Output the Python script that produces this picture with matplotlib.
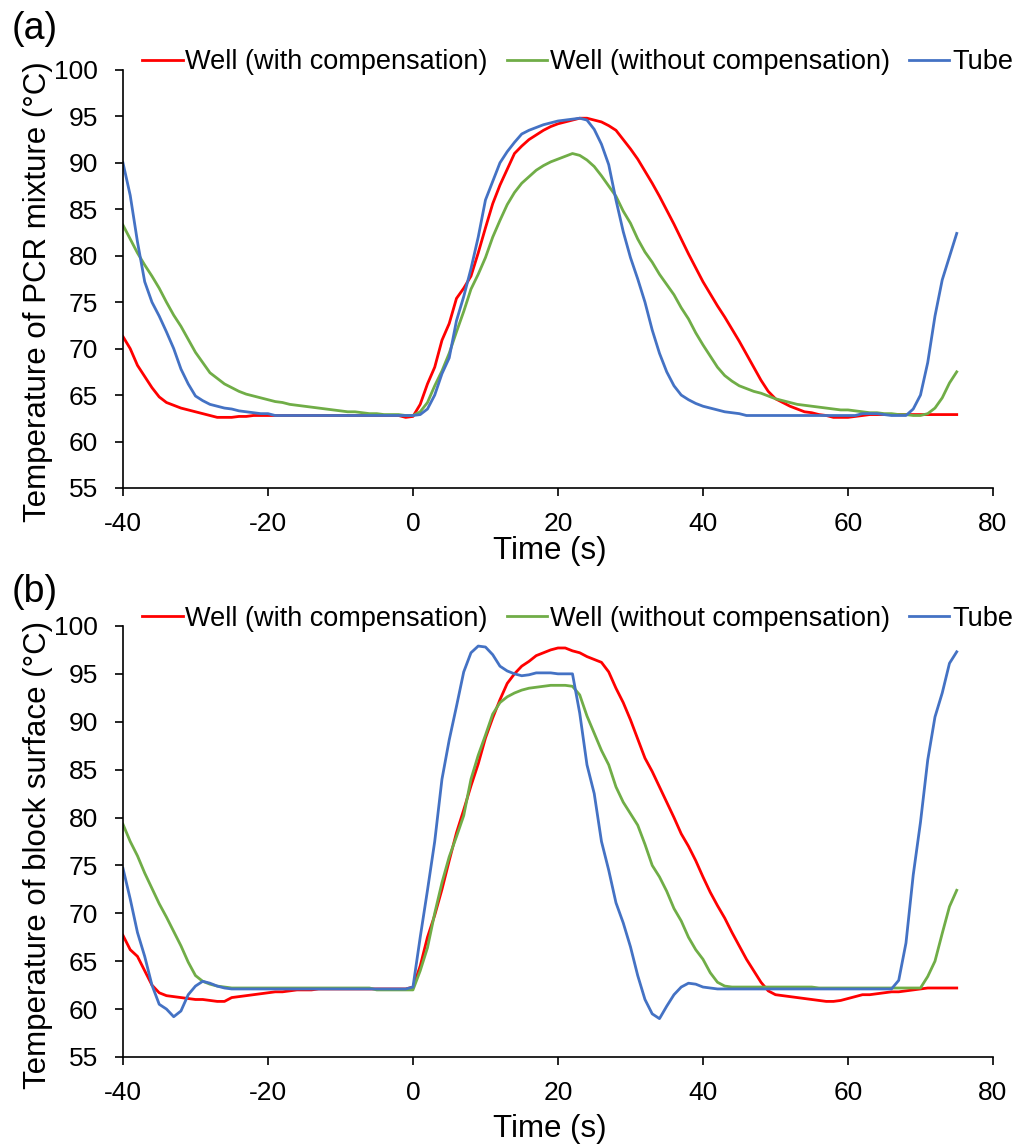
import matplotlib
matplotlib.use("Agg")
import matplotlib.pyplot as plt
import numpy as np

plt.rcParams['font.family'] = ['Liberation Sans', 'DejaVu Sans']
plt.rcParams['axes.unicode_minus'] = False

# time axis, 1 s sampling
time_s = np.arange(-40, 76)

# (a) temperature of PCR mixture
a_well_comp = [71.3, 70.0, 68.2, 67.0, 65.8, 64.8, 64.2, 63.9, 63.6, 63.4,
               63.2, 63.0, 62.8, 62.6, 62.6, 62.6, 62.7, 62.7, 62.8, 62.8,
               62.8, 62.8, 62.8, 62.8, 62.8, 62.8, 62.8, 62.8, 62.8, 62.8,
               62.8, 62.8, 62.8, 62.8, 62.8, 62.8, 62.8, 62.8, 62.8, 62.6,
               62.7, 64.0, 66.2, 68.0, 70.9, 72.7, 75.4, 76.5, 77.8, 80.3,
               83.0, 85.6, 87.6, 89.3, 91.0, 91.8, 92.5, 93.0, 93.5, 93.9,
               94.2, 94.4, 94.6, 94.8, 94.8, 94.6, 94.4, 94.0, 93.5, 92.5,
               91.5, 90.4, 89.1, 87.8, 86.4, 84.9, 83.4, 81.8, 80.2, 78.7,
               77.2, 75.9, 74.6, 73.4, 72.1, 70.8, 69.4, 68.0, 66.6, 65.4,
               64.6, 64.2, 63.8, 63.5, 63.2, 63.1, 62.9, 62.8, 62.6, 62.6,
               62.6, 62.7, 62.8, 62.9, 62.9, 62.9, 62.9, 62.9, 62.9, 62.9,
               62.9, 62.9, 62.9, 62.9, 62.9, 62.9]
a_well_nocomp = [83.3, 81.8, 80.3, 79.0, 77.8, 76.5, 75.0, 73.6, 72.4, 71.0,
                 69.6, 68.5, 67.4, 66.8, 66.2, 65.8, 65.4, 65.1, 64.9, 64.7,
                 64.5, 64.3, 64.2, 64.0, 63.9, 63.8, 63.7, 63.6, 63.5, 63.4,
                 63.3, 63.2, 63.2, 63.1, 63.0, 63.0, 62.9, 62.9, 62.9, 62.8,
                 62.8, 63.2, 64.2, 66.0, 67.6, 69.5, 71.8, 74.0, 76.4, 78.0,
                 79.8, 82.0, 83.8, 85.5, 86.8, 87.8, 88.5, 89.2, 89.7, 90.1,
                 90.4, 90.7, 91.0, 90.8, 90.3, 89.6, 88.6, 87.5, 86.4, 84.8,
                 83.5, 81.8, 80.4, 79.3, 78.0, 76.9, 75.8, 74.4, 73.2, 71.7,
                 70.4, 69.2, 68.0, 67.1, 66.5, 66.0, 65.7, 65.4, 65.2, 64.9,
                 64.6, 64.4, 64.2, 64.0, 63.9, 63.8, 63.7, 63.6, 63.5, 63.4,
                 63.4, 63.3, 63.2, 63.1, 63.1, 63.0, 63.0, 62.9, 62.9, 62.8,
                 62.8, 63.0, 63.6, 64.7, 66.3, 67.5]
a_tube = [90.0, 86.5, 81.5, 77.2, 75.0, 73.5, 71.8, 70.0, 67.8, 66.2,
          64.9, 64.4, 64.0, 63.8, 63.6, 63.5, 63.3, 63.2, 63.1, 63.0,
          63.0, 62.8, 62.8, 62.8, 62.8, 62.8, 62.8, 62.8, 62.8, 62.8,
          62.8, 62.8, 62.8, 62.8, 62.8, 62.8, 62.8, 62.8, 62.8, 62.8,
          62.8, 62.9, 63.5, 65.0, 67.3, 69.0, 73.0, 75.6, 78.6, 82.0,
          86.0, 88.0, 90.0, 91.2, 92.2, 93.1, 93.5, 93.8, 94.1, 94.3,
          94.5, 94.6, 94.7, 94.8, 94.6, 93.6, 92.0, 89.8, 86.0, 82.6,
          79.8, 77.5, 75.0, 72.0, 69.5, 67.5, 66.0, 65.0, 64.5, 64.1,
          63.8, 63.6, 63.4, 63.2, 63.1, 63.0, 62.8, 62.8, 62.8, 62.8,
          62.8, 62.8, 62.8, 62.8, 62.8, 62.8, 62.8, 62.8, 62.8, 62.8,
          62.8, 62.8, 63.0, 63.0, 63.0, 62.9, 62.8, 62.8, 62.8, 63.5,
          65.0, 68.5, 73.5, 77.4, 79.9, 82.4]

# (b) temperature of block surface
b_well_comp = [67.7, 66.2, 65.5, 64.0, 62.5, 61.7, 61.4, 61.3, 61.2, 61.1,
               61.0, 61.0, 60.9, 60.8, 60.8, 61.2, 61.3, 61.4, 61.5, 61.6,
               61.7, 61.8, 61.8, 61.9, 62.0, 62.0, 62.0, 62.1, 62.1, 62.1,
               62.1, 62.1, 62.1, 62.1, 62.1, 62.1, 62.1, 62.1, 62.1, 62.1,
               62.3, 64.5, 67.5, 69.8, 72.5, 75.5, 78.4, 80.8, 83.3, 85.6,
               88.3, 90.4, 92.3, 94.0, 95.0, 95.8, 96.3, 96.9, 97.2, 97.5,
               97.7, 97.7, 97.4, 97.2, 96.8, 96.5, 96.2, 95.2, 93.5, 92.0,
               90.2, 88.2, 86.2, 84.8, 83.2, 81.6, 80.0, 78.3, 77.0, 75.5,
               73.8, 72.2, 70.8, 69.5, 68.0, 66.6, 65.2, 64.0, 62.8, 61.9,
               61.5, 61.4, 61.3, 61.2, 61.1, 61.0, 60.9, 60.8, 60.8, 60.9,
               61.1, 61.3, 61.5, 61.5, 61.6, 61.7, 61.8, 61.8, 61.9, 62.0,
               62.1, 62.2, 62.2, 62.2, 62.2, 62.2]
b_well_nocomp = [79.3, 77.5, 76.0, 74.2, 72.6, 71.0, 69.6, 68.1, 66.6, 64.9,
                 63.5, 62.9, 62.6, 62.4, 62.3, 62.2, 62.2, 62.2, 62.2, 62.2,
                 62.2, 62.2, 62.2, 62.2, 62.2, 62.2, 62.2, 62.2, 62.2, 62.2,
                 62.2, 62.2, 62.2, 62.2, 62.2, 62.0, 62.0, 62.0, 62.0, 62.0,
                 62.0, 64.0, 66.4, 70.0, 73.2, 75.9, 78.0, 80.2, 84.0, 86.5,
                 88.6, 90.8, 92.0, 92.6, 93.0, 93.3, 93.5, 93.6, 93.7, 93.8,
                 93.8, 93.8, 93.7, 92.8, 90.6, 88.8, 87.0, 85.5, 83.2, 81.6,
                 80.4, 79.2, 77.2, 75.0, 73.8, 72.3, 70.5, 69.2, 67.5, 66.2,
                 65.2, 63.8, 62.8, 62.4, 62.3, 62.3, 62.3, 62.3, 62.3, 62.3,
                 62.3, 62.3, 62.3, 62.3, 62.3, 62.3, 62.2, 62.2, 62.2, 62.2,
                 62.2, 62.2, 62.2, 62.2, 62.2, 62.2, 62.2, 62.2, 62.2, 62.2,
                 62.2, 63.4, 65.0, 67.9, 70.7, 72.4]
b_tube = [74.7, 71.5, 68.0, 65.5, 62.5, 60.5, 60.0, 59.2, 59.8, 61.5,
          62.4, 62.9, 62.7, 62.4, 62.2, 62.1, 62.1, 62.1, 62.1, 62.1,
          62.1, 62.1, 62.1, 62.1, 62.1, 62.1, 62.1, 62.1, 62.1, 62.1,
          62.1, 62.1, 62.1, 62.1, 62.1, 62.1, 62.1, 62.1, 62.1, 62.1,
          62.3, 67.5, 72.4, 77.5, 84.0, 88.1, 91.6, 95.2, 97.2, 97.9,
          97.8, 97.0, 95.8, 95.3, 95.0, 94.8, 94.9, 95.1, 95.1, 95.1,
          95.0, 95.0, 95.0, 90.9, 85.5, 82.5, 77.5, 74.5, 71.1, 69.0,
          66.5, 63.5, 61.0, 59.5, 59.0, 60.3, 61.5, 62.3, 62.7, 62.6,
          62.3, 62.2, 62.1, 62.1, 62.1, 62.1, 62.1, 62.1, 62.1, 62.1,
          62.1, 62.1, 62.1, 62.1, 62.1, 62.1, 62.1, 62.1, 62.1, 62.1,
          62.1, 62.1, 62.1, 62.1, 62.1, 62.1, 62.1, 63.0, 66.9, 74.0,
          79.5, 86.0, 90.5, 93.0, 96.1, 97.3]

series_names = ['Well (with compensation)', 'Well (without compensation)', 'Tube']
series_colors = ['#FF0000', '#70AD47', '#4472C4']

fig = plt.figure(figsize=(10.35, 11.46), dpi=100)

panels = [
    ('(a)', 'Temperature of PCR mixture (°C)', [a_well_comp, a_well_nocomp, a_tube],
     [0.1188, 0.5742, 0.8406, 0.3648], 0.9459, 0.975, -0.151),
    ('(b)', 'Temperature of block surface (°C)', [b_well_comp, b_well_nocomp, b_tube],
     [0.1188, 0.0777, 0.8406, 0.3761], 0.4599, 0.4835, -0.167),
]

for tag, ylab, data, rect, leg_y, tag_y, xlab_y in panels:
    ax = fig.add_axes(rect)
    for vals, name, col in zip(data, series_names, series_colors):
        ax.plot(time_s, vals, color=col, lw=2, label=name)
    ax.set_xlim(-40, 80)
    ax.set_ylim(55, 100)
    ax.set_xticks(np.arange(-40, 81, 20))
    ax.set_yticks(np.arange(55, 101, 5))
    for s in ['top', 'right']:
        ax.spines[s].set_visible(False)
    for s in ['left', 'bottom']:
        ax.spines[s].set_linewidth(1.2)
    ax.tick_params(axis='both', direction='out', length=6, width=1.2, labelsize=19)
    ax.tick_params(axis='y', pad=12)
    ax.tick_params(axis='x', pad=11)
    ax.set_xlabel('Time (s)', fontsize=22.5, va='center')
    ax.xaxis.set_label_coords(0.491, xlab_y)
    ax.set_ylabel(ylab, fontsize=22.5, va='center')
    ax.yaxis.set_label_coords(-0.098, 0.469)
    ax.legend(loc='center', bbox_to_anchor=(0.558, leg_y), bbox_transform=fig.transFigure,
              ncol=3, frameon=False, fontsize=19.5, handlelength=1.5,
              handletextpad=0.1, columnspacing=0.7, borderpad=0)
    fig.text(0.011, tag_y, tag, fontsize=27, ha='left', va='center')

fig.savefig('out.png', dpi=100)
